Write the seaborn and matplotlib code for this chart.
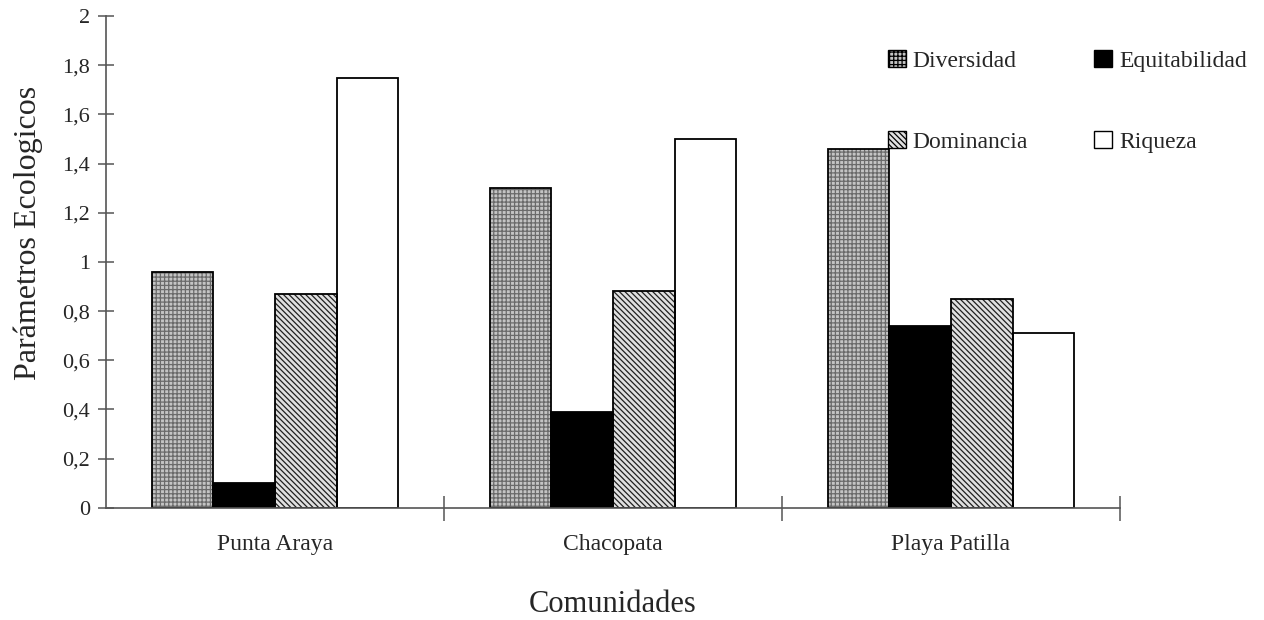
import matplotlib
matplotlib.use("Agg")
import matplotlib.pyplot as plt
import numpy as np
import pandas as pd
import seaborn as sns
from matplotlib.patches import Rectangle

sns.set_theme(style="white")
plt.rcParams["font.family"] = ["Liberation Serif", "DejaVu Serif"]
plt.rcParams["hatch.linewidth"] = 0.9

comunidades = ["Punta Araya", "Chacopata", "Playa Patilla"]
parametros = ["Diversidad", "Equitabilidad", "Dominancia", "Riqueza"]
diversidad = [0.96, 1.30, 1.46]
equitabilidad = [0.10, 0.39, 0.74]
dominancia = [0.87, 0.88, 0.85]
riqueza = [1.75, 1.50, 0.71]

df = pd.DataFrame({
    "comunidad": comunidades * 4,
    "parametro": np.repeat(parametros, 3),
    "valor": diversidad + equitabilidad + dominancia + riqueza,
})

fig = plt.figure(figsize=(12.64, 6.2), dpi=100)
ax = fig.add_axes([0.084, 0.181, 0.802, 0.793])

sns.barplot(data=df, x="comunidad", y="valor", hue="parametro",
            order=comunidades, hue_order=parametros,
            width=0.73, gap=0, ax=ax, legend=False,
            palette=["white"] * 4, edgecolor="black", linewidth=1.2)

# fill styles per series: (face, hatch, hatch colour)
styles = [
    ("#c4c4c4", "++++", "#6a6a6a"),
    ("black", None, "black"),
    ("#e0e0e0", "\\\\\\\\\\\\", "#202020"),
    ("white", None, "black"),
]
proxies = []
for cont, (fc, hatch, hc) in zip(ax.containers, styles):
    for p in cont.patches:
        p.set_facecolor(fc)
        p.set_edgecolor(hc)
        p.set_linewidth(0)
        if hatch:
            p.set_hatch(hatch)
        # black outline on top
        ax.add_patch(Rectangle(p.get_xy(), p.get_width(), p.get_height(),
                               fill=False, edgecolor="black", linewidth=1.3,
                               zorder=p.get_zorder() + 0.1))
    proxies.append(Rectangle((0, 0), 1, 1, facecolor=fc, hatch=hatch,
                             edgecolor="black", linewidth=1.0))

ax.set_ylim(0, 2)
ax.set_xlim(-0.5, 2.5)
ax.set_yticks(np.arange(0, 2.01, 0.2))
ax.set_yticklabels([f"{v:g}".replace(".", ",") for v in np.arange(0, 2.01, 0.2).round(1)])
ax.set_xticks([0.5, 1.5, 2.5], minor=True)

for s in ["top", "right"]:
    ax.spines[s].set_visible(False)
for s in ["left", "bottom"]:
    ax.spines[s].set_color("#555555")
    ax.spines[s].set_linewidth(1.2)

ax.tick_params(axis="y", direction="inout", length=11, width=1.1,
               color="#555555", labelsize=16, pad=6, left=True)
ax.tick_params(axis="x", which="major", length=0, labelsize=17, pad=19)
ax.tick_params(axis="x", which="minor", direction="inout", length=18,
               width=1.1, color="#555555", bottom=True)

ax.set_xlabel("Comunidades", fontsize=22, labelpad=25)
ax.set_ylabel("Parámetros Ecologicos", fontsize=23)
ax.yaxis.set_label_coords(-0.062, 0.56)

# row-major order: Diversidad, Equitabilidad / Dominancia, Riqueza
order = [0, 2, 1, 3]
ax.legend(handles=[proxies[i] for i in order],
          labels=[parametros[i] for i in order],
          ncol=2, frameon=False, fontsize=17, loc="upper left",
          bbox_to_anchor=(888 / 1264, 1 - 50 / 620),
          bbox_transform=fig.transFigure,
          handlelength=0.75, handleheight=0.75, handletextpad=0.3,
          labelspacing=2.5, columnspacing=2.8, borderpad=0, borderaxespad=0)

fig.savefig("out.png", dpi=100)
